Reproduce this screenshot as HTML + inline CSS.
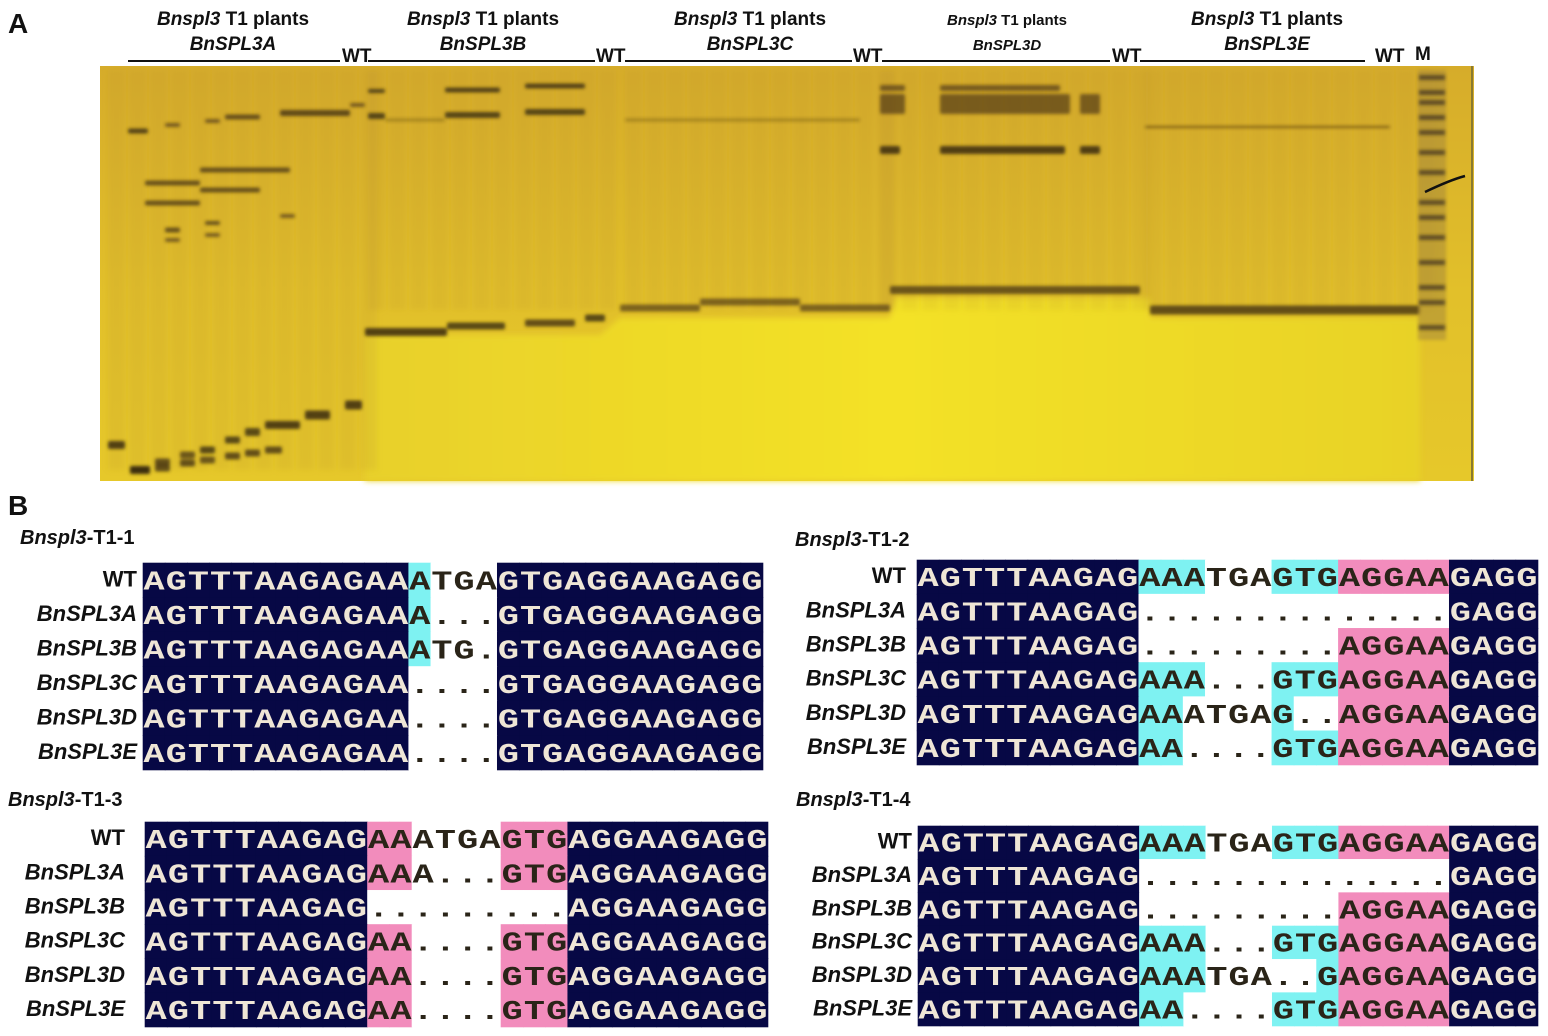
<!DOCTYPE html>
<html><head><meta charset="utf-8">
<style>
html,body{margin:0;padding:0;background:#fff;}
body{width:1548px;height:1036px;overflow:hidden;position:relative;font-family:"Liberation Sans",Arial,sans-serif;}
svg{position:absolute;left:0;top:0;}
</style></head>
<body>
<svg id="fig" width="1548" height="1036" viewBox="0 0 1548 1036" xmlns="http://www.w3.org/2000/svg">
<defs>
<linearGradient id="gelg" x1="0" y1="0" x2="0" y2="1">
<stop offset="0" stop-color="#d6ac2a"/><stop offset="0.55" stop-color="#e2c02a"/><stop offset="1" stop-color="#e6c82a"/>
</linearGradient>
<linearGradient id="brightg" x1="0" y1="0" x2="1" y2="0">
<stop offset="0" stop-color="#e8d02a"/><stop offset="0.5" stop-color="#f4e226"/><stop offset="1" stop-color="#e8d228"/>
</linearGradient>
<filter id="blur" x="-10%" y="-50%" width="120%" height="200%"><feGaussianBlur stdDeviation="1.6"/></filter>
<filter id="blur2" x="-10%" y="-10%" width="120%" height="120%"><feGaussianBlur stdDeviation="3"/></filter>
</defs>
<text x="8" y="33" font-size="28" font-weight="bold" fill="#111">A</text>
<text x="8" y="515" font-size="28" font-weight="bold" fill="#111">B</text>
<g id="gel">
<rect x="100" y="66" width="1374" height="415" fill="url(#gelg)"/>
<path d="M365,335 L600,335 L620,318 L890,318 L895,298 L1150,298 L1150,318 L1420,318 L1420,481 L365,481 Z" fill="url(#brightg)" filter="url(#blur2)"/>
<g id="lanes" filter="url(#blur2)"></g>
<g id="bands" filter="url(#blur)"></g>
<rect x="1418" y="70" width="28" height="270" fill="#a88a3a" opacity="0.55" filter="url(#blur)"/>
<g id="markers" filter="url(#blur)"></g>
<path d="M1425,192 Q1450,180 1465,176" stroke="#111" stroke-width="2.5" fill="none"/>
<line x1="1472" y1="66" x2="1472" y2="481" stroke="#8a7a30" stroke-width="2"/>
</g>
<g id="headers"></g>
<g id="align"></g>
</svg>
<script>
const NS='http://www.w3.org/2000/svg';
function mk(tag,attrs,parent){const e=document.createElementNS(NS,tag);for(const k in attrs)e.setAttribute(k,attrs[k]);parent.appendChild(e);return e;}

// ---- gel band data ----
const bandX1=[128,165,205,225,280,350,145,200,145,200,165,205,280,165,205,
 108,130,155,180,200,225,245,265,305,345, 130,155,180,200,225,245,265,
 368,368,445,445,525,525,385,
 365,447,525,585,
 625,620,700,800,
 880,940,880,940,1080,880,940,1080,890,
 1145,1150];
const bandX2=[148,180,220,260,350,365,200,290,200,260,180,220,295,180,220,
 125,150,170,195,215,240,260,300,330,362, 150,170,195,215,240,260,282,
 385,385,500,500,585,585,445,
 447,505,575,605,
 860,700,800,890,
 905,1060,905,1070,1100,900,1065,1100,1140,
 1390,1420];
const bandY=[131,125,121,117,113,105,183,170,203,190,230,223,216,240,235,
 445,470,462,455,450,440,432,425,415,405, 470,468,463,460,456,453,450,
 91,116,90,115,86,112,120,
 332,326,323,318,
 120,308,302,308,
 88,88,104,104,104,150,150,150,290,
 127,310];
const bandW=[5,4,4,5,6,4,5,5,5,5,5,4,4,4,4,
 8,8,7,7,7,7,8,8,9,9, 8,7,7,7,7,7,7,
 4,6,5,6,5,6,3,
 8,7,7,7,
 3,7,7,7,
 6,6,20,20,20,8,8,8,8,
 2,9];
const bandOp=[0.8,0.6,0.6,0.7,0.75,0.6,0.7,0.7,0.7,0.7,0.7,0.7,0.6,0.6,0.6,
 0.85,0.9,0.75,0.7,0.8,0.8,0.8,0.85,0.85,0.85, 0.8,0.75,0.75,0.7,0.75,0.75,0.75,
 0.8,0.8,0.8,0.8,0.8,0.8,0.3,
 0.85,0.8,0.75,0.8,
 0.3,0.6,0.6,0.6,
 0.6,0.6,0.6,0.6,0.6,0.85,0.85,0.85,0.7,
 0.6,0.75];
const bands=document.getElementById('bands');
for(let i=0;i<bandY.length;i++){
  const r=mk('rect',{x:bandX1[i],y:bandY[i]-bandW[i]/2,width:bandX2[i]-bandX1[i],height:bandW[i],fill:'#3a2a10',opacity:bandOp[i],rx:2},bands);
  
  
}
// lane smears
const laneStart=[108,368,625,880,1145];
const laneEnd=[365,605,885,1140,1420];
const lanes=document.getElementById('lanes');
for(let g=0;g<laneStart.length;g++){
  for(let x=laneStart[g];x<laneEnd[g];x+=21){
    const r=mk('rect',{x:x,y:70,width:17,height:g==0?400:240,fill:'#b08a30',opacity:0.14},lanes);
    
    
  }
}
const markerY=[75,90,100,115,130,150,170,200,215,235,260,285,300,325];
const markers=document.getElementById('markers');
for(const y of markerY){
  const r=mk('rect',{x:1419,y:y,width:26,height:5,fill:'#3a3020',opacity:0.7},markers);
  
  
}

// ---- headers ----
const hdrCenter=[233,483,750,1007,1267];
const hdrGene=['BnSPL3A','BnSPL3B','BnSPL3C','BnSPL3D','BnSPL3E'];
const hdrSize=[19,19,19,15,19];
const headers=document.getElementById('headers');
for(let i=0;i<5;i++){
  const t=mk('text',{x:hdrCenter[i],y:25,'text-anchor':'middle','font-size':hdrSize[i],'font-weight':'bold',fill:'#111'},headers);
  t.innerHTML='<tspan font-style="italic">Bnspl3</tspan> T1 plants';
  
  
  const g=mk('text',{x:hdrCenter[i],y:50,'text-anchor':'middle','font-size':hdrSize[i],'font-weight':'bold','font-style':'italic',fill:'#111'},headers);
  g.textContent=hdrGene[i];
  
  
}
const lineX1=[128,368,625,882,1140];
const lineX2=[340,595,852,1110,1365];
const wtX=[342,596,853,1112,1375];
for(let i=0;i<5;i++){
  const l=mk('line',{x1:lineX1[i],y1:61,x2:lineX2[i],y2:61,stroke:'#111','stroke-width':2},headers);
  
  
  const w=mk('text',{x:wtX[i],y:62,'font-size':19,'font-weight':'bold',fill:'#111'},headers);
  w.textContent='WT';
  
  
}
const m=mk('text',{x:1415,y:60,'font-size':19,'font-weight':'bold',fill:'#111'},headers);
m.textContent='M';



// ---- alignments ----
const rowNames=['WT','BnSPL3A','BnSPL3B','BnSPL3C','BnSPL3D','BnSPL3E'];
const titles=['T1-1','T1-2','T1-3','T1-4'];
const seq1=['AGTTTAAGAGAAATGAGTGAGGAAGAGG','AGTTTAAGAGAAA...GTGAGGAAGAGG','AGTTTAAGAGAAATG.GTGAGGAAGAGG','AGTTTAAGAGAA....GTGAGGAAGAGG','AGTTTAAGAGAA....GTGAGGAAGAGG','AGTTTAAGAGAA....GTGAGGAAGAGG'];
const col1=['nnnnnnnnnnnncwwwnnnnnnnnnnnn','nnnnnnnnnnnncwwwnnnnnnnnnnnn','nnnnnnnnnnnncwwwnnnnnnnnnnnn','nnnnnnnnnnnnwwwwnnnnnnnnnnnn','nnnnnnnnnnnnwwwwnnnnnnnnnnnn','nnnnnnnnnnnnwwwwnnnnnnnnnnnn'];
const seq2=['AGTTTAAGAGAAATGAGTGAGGAAGAGG','AGTTTAAGAG..............GAGG','AGTTTAAGAG.........AGGAAGAGG','AGTTTAAGAGAAA...GTGAGGAAGAGG','AGTTTAAGAGAAATGAG..AGGAAGAGG','AGTTTAAGAGAA....GTGAGGAAGAGG'];
const col2=['nnnnnnnnnncccwwwcccpppppnnnn','nnnnnnnnnnwwwwwwwwwwwwwwnnnn','nnnnnnnnnnwwwwwwwwwpppppnnnn','nnnnnnnnnncccwwwcccpppppnnnn','nnnnnnnnnnccwwwwcwwpppppnnnn','nnnnnnnnnnccwwwwcccpppppnnnn'];
const seq3=['AGTTTAAGAGAAATGAGTGAGGAAGAGG','AGTTTAAGAGAAA...GTGAGGAAGAGG','AGTTTAAGAG.........AGGAAGAGG','AGTTTAAGAGAA....GTGAGGAAGAGG','AGTTTAAGAGAA....GTGAGGAAGAGG','AGTTTAAGAGAA....GTGAGGAAGAGG'];
const col3=['nnnnnnnnnnppwwwwpppnnnnnnnnn','nnnnnnnnnnppwwwwpppnnnnnnnnn','nnnnnnnnnnwwwwwwwwwnnnnnnnnn','nnnnnnnnnnppwwwwpppnnnnnnnnn','nnnnnnnnnnppwwwwpppnnnnnnnnn','nnnnnnnnnnppwwwwpppnnnnnnnnn'];
const seq4=['AGTTTAAGAGAAATGAGTGAGGAAGAGG','AGTTTAAGAG..............GAGG','AGTTTAAGAG.........AGGAAGAGG','AGTTTAAGAGAAA...GTGAGGAAGAGG','AGTTTAAGAGAAATGA..GAGGAAGAGG','AGTTTAAGAGAA....GTGAGGAAGAGG'];
const col4=['nnnnnnnnnncccwwwcccpppppnnnn','nnnnnnnnnnwwwwwwwwwwwwwwnnnn','nnnnnnnnnnwwwwwwwwwpppppnnnn','nnnnnnnnnncccwwwcccpppppnnnn','nnnnnnnnnncccwwwwwcpppppnnnn','nnnnnnnnnnccwwwwcccpppppnnnn'];
const seqs=[seq1,seq2,seq3,seq4];
const cols=[col1,col2,col3,col4];
const pX=[143,917,145,918], pY=[563,560,822,826], pW=[620,621,623,620], pH=[207,205,205,200];
const tX=[20,795,8,796], tY=[544,546,806,806], lblR=[137,906,125,912];
const fills={n:'#070845',c:'#7ef2f2',p:'#f28cbc',w:'#ffffff'};
const align=document.getElementById('align');
for(let p=0;p<4;p++){
  const g=mk('g',{},align);
  
  
  const t=mk('text',{x:tX[p],y:tY[p],'font-size':20,'font-weight':'bold',fill:'#111'},g);
  t.innerHTML='<tspan font-style="italic">Bnspl3</tspan>-'+titles[p];
  
  
  const cw=pW[p]/28, rh=pH[p]/6;
  for(let r=0;r<6;r++){
    const y0=pY[p]+r*rh;
    for(let c=0;c<28;c++){
      const rc=mk('rect',{x:pX[p]+c*cw-0.3,y:y0-0.3,width:cw+0.6,height:rh+0.6,fill:fills[cols[p][r][c]]},g);
      
      
    }
    for(let c=0;c<28;c++){
      const ch=seqs[p][r][c];
      const dark=cols[p][r][c]==='n';
      const cx=pX[p]+c*cw+cw/2, cy=y0+rh/2+9;
      const tx=mk('text',{x:0,y:0,transform:'translate('+cx+','+cy+') scale(1.3,1)','text-anchor':'middle','font-family':'"Liberation Mono",monospace','font-size':27,'font-weight':'bold',fill:dark?'#efe6d6':'#2a2418'},g);
      tx.textContent=ch;
      
      
    }
    const lb=mk('text',{x:lblR[p],y:y0+rh/2+6,'text-anchor':'end','font-size':22,'font-weight':'bold','font-style':r==0?'normal':'italic',fill:'#111'},g);
    lb.textContent=rowNames[r];
    
    
  }
}
</script>
</body></html>
